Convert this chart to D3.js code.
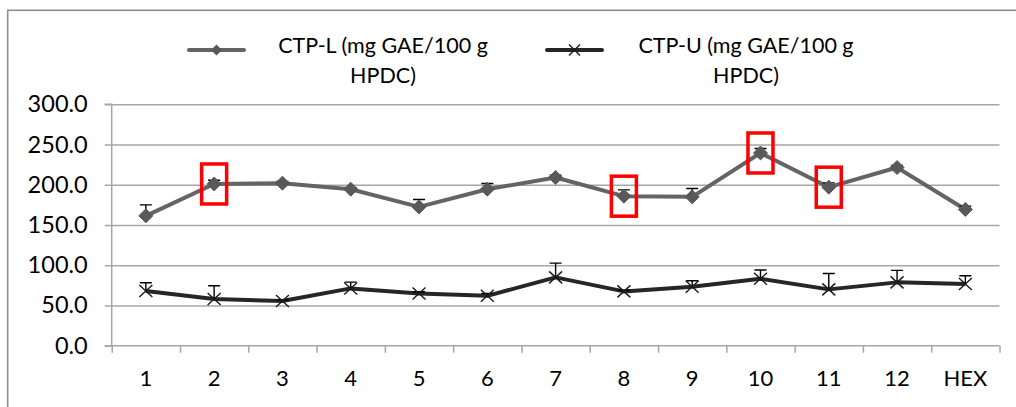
<!DOCTYPE html>
<html><head><meta charset="utf-8">
<script src="https://cdn.jsdelivr.net/npm/d3@7"></script>
<style>
html,body{margin:0;padding:0;background:#fff;}
svg{display:block;font-family:Lato,"Open Sans",sans-serif;}
</style></head>
<body>
<svg id="chart" width="1016" height="407"></svg>
<script>
const categories = ["1","2","3","4","5","6","7","8","9","10","11","12","HEX"];
const ctpL    = [161.4, 201.0, 202.0, 194.5, 172.5, 194.5, 209.0, 185.8, 185.0, 239.5, 197.0, 221.4, 169.3];
const ctpLErr = [13.6, 4.6, 2.0, 2.0, 9.2, 7.0, 3.0, 7.8, 10.3, 5.5, 5.3, 2.5, 4.1];
const ctpU    = [67.9, 58.0, 55.5, 71.2, 65.0, 62.0, 84.9, 67.5, 73.3, 83.2, 70.0, 78.7, 76.6];
const ctpUErr = [10.3, 16.5, 1.5, 7.8, 2.0, 3.0, 17.7, 1.5, 7.4, 10.8, 19.8, 14.9, 10.3];
const highlighted = ["2","8","10","11"];
const yTicks = [0, 50, 100, 150, 200, 250, 300];
const seriesNames = ["CTP-L (mg GAE/100 g|HPDC)", "CTP-U (mg GAE/100 g|HPDC)"];

(function () {
const svg = d3.select("#chart");
const pLeft = 111.7, pRight = 999.5, pTop = 104.3, pBottom = 345.7;

// outer frame
svg.append("rect").attr("x", 7.7).attr("y", 10.3).attr("width", 1100).attr("height", 500)
  .attr("fill", "none").attr("stroke", "#8e8e8e").attr("stroke-width", 1.6);

const x = d3.scaleBand().domain(categories).range([pLeft, pRight]);
const xi = d3.scaleLinear().domain([0, categories.length]).range([pLeft, pRight]);
const y = d3.scaleLinear().domain([0, 300]).range([pBottom, pTop]);

// gridlines
svg.append("g").attr("transform", `translate(${pLeft},0)`)
  .call(d3.axisLeft(y).tickValues(yTicks.slice(1)).tickSize(-(pRight - pLeft)).tickFormat(""))
  .call(g => g.select(".domain").remove())
  .call(g => g.selectAll("line").attr("stroke", "#a6a6a6").attr("stroke-width", 1.5));

// y axis
svg.append("g").attr("transform", `translate(${pLeft},0)`)
  .call(d3.axisLeft(y).tickValues(yTicks).tickSize(7).tickPadding(17).tickFormat(d3.format(".1f")))
  .call(g => g.select(".domain").attr("stroke", "#a6a6a6").attr("stroke-width", 1.5).attr("d", `M-7,${pTop}H0V${pBottom}H-7`))
  .call(g => g.selectAll("line").attr("stroke", "#a6a6a6").attr("stroke-width", 1.5))
  .call(g => g.selectAll("text").attr("fill", "#000").style("font-size", "23.5px").style("font-family", "Lato"));

// x axis boundary ticks
svg.append("g").attr("transform", `translate(0,${pBottom})`)
  .call(d3.axisBottom(xi).tickValues(d3.range(categories.length + 1)).tickSize(7).tickFormat(""))
  .call(g => g.select(".domain").attr("stroke", "#a6a6a6").attr("stroke-width", 1.5).attr("d", `M${pLeft},0H${pRight}`))
  .call(g => g.selectAll("line").attr("stroke", "#a6a6a6").attr("stroke-width", 1.5));

// x labels
svg.append("g").attr("transform", `translate(0,${pBottom})`)
  .call(d3.axisBottom(x).tickSize(0).tickPadding(25))
  .call(g => g.select(".domain").remove())
  .call(g => g.selectAll("text").attr("fill", "#000").style("font-size", "22px").style("font-family", "Lato"));

const cx = c => x(c) + x.bandwidth() / 2;
const line = d3.line().x((d, i) => cx(categories[i])).y(d => y(d));

const colL = "#646464", colLm = "#595959", colU = "#262626";

svg.append("path").datum(ctpL).attr("d", line).attr("fill", "none")
  .attr("stroke", colL).attr("stroke-width", 4).attr("stroke-linejoin", "round");
svg.append("path").datum(ctpU).attr("d", line).attr("fill", "none")
  .attr("stroke", colU).attr("stroke-width", 4).attr("stroke-linejoin", "round");

// error bars (plus direction)
function errBars(vals, errs) {
  const g = svg.append("g").attr("stroke", "#000").attr("stroke-width", 1.4).attr("fill", "none");
  g.selectAll("path").data(vals).join("path")
    .attr("d", (d, i) => {
      const px = cx(categories[i]), y0 = y(d), y1 = y(d + errs[i]);
      return `M${px},${y0}V${y1}M${px - 6},${y1}H${px + 6}`;
    });
}
errBars(ctpL, ctpLErr);
errBars(ctpU, ctpUErr);

// markers
const diamond = r => `M0,${-r}L${r},0L0,${r}L${-r},0Z`;
const cross = (w, h) => `M${-w},${-h}L${w},${h}M${-w},${h}L${w},${-h}`;
svg.append("g").selectAll("path").data(ctpL).join("path")
  .attr("transform", (d, i) => `translate(${cx(categories[i])},${y(d)})`)
  .attr("d", diamond(7)).attr("fill", colLm).attr("stroke", colLm).attr("stroke-width", 1);
svg.append("g").selectAll("path").data(ctpU).join("path")
  .attr("transform", (d, i) => `translate(${cx(categories[i])},${y(d)})`)
  .attr("d", cross(6.5, 6)).attr("fill", "none").attr("stroke", "#1a1a1a").attr("stroke-width", 1.4);

// highlight boxes
svg.append("g").selectAll("rect").data(highlighted).join("rect")
  .attr("x", c => cx(c) - 12.5)
  .attr("y", c => y(ctpL[categories.indexOf(c)]) - 20)
  .attr("width", 25).attr("height", 40)
  .attr("fill", "none").attr("stroke", "#ff0000").attr("stroke-width", 3.5);

// legend
const legend = svg.append("g");
const legItems = [
  {x0: 189, x1: 244, tx: 383, color: colL, mark: "diamond"},
  {x0: 547, x1: 602, tx: 746, color: colU, mark: "cross"}
];
legItems.forEach((it, k) => {
  legend.append("line").attr("x1", it.x0).attr("x2", it.x1).attr("y1", 50).attr("y2", 50)
    .attr("stroke", it.color).attr("stroke-width", 4).attr("stroke-linecap", "round");
  const m = legend.append("path").attr("transform", `translate(${(it.x0 + it.x1) / 2},50)`);
  if (it.mark === "diamond") m.attr("d", diamond(5.5)).attr("fill", colLm);
  else m.attr("d", cross(5.5, 5.5)).attr("fill", "none").attr("stroke", "#1a1a1a").attr("stroke-width", 1.4);
  const lines = seriesNames[k].split("|");
  lines.forEach((t, j) => {
    legend.append("text").attr("x", it.tx).attr("y", 53 + j * 30).attr("text-anchor", "middle")
      .style("font-size", "21.5px").style("font-family", "Lato").attr("fill", "#000").text(t);
  });
});
})();
</script>
</body></html>
